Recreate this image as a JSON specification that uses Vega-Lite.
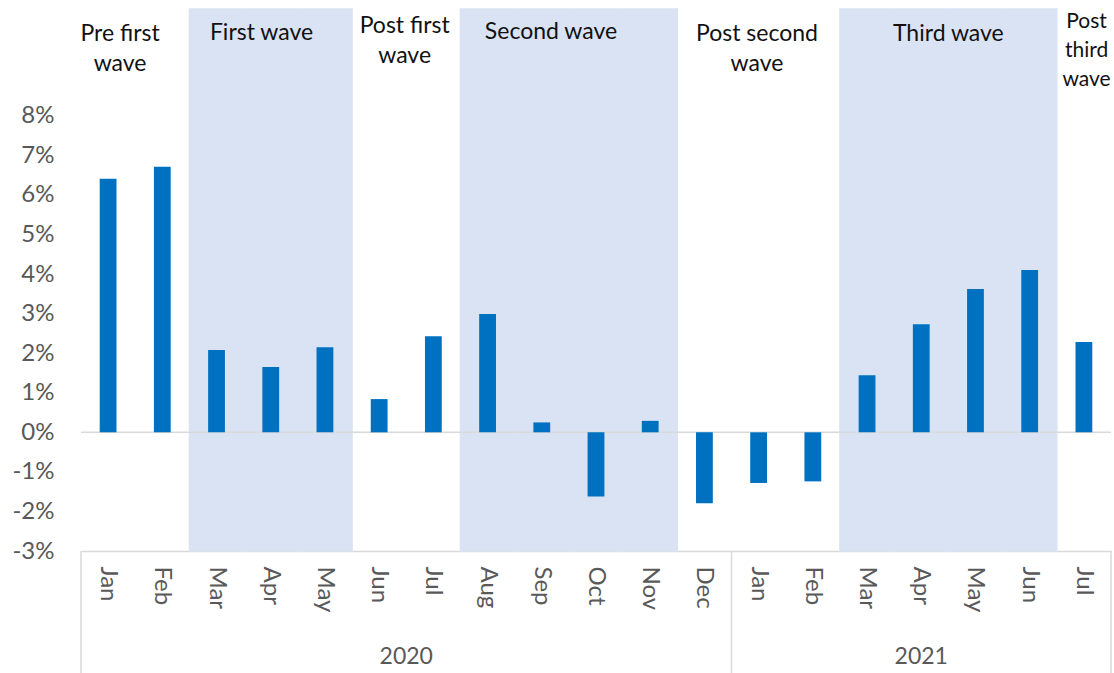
{
  "$schema": "https://vega.github.io/schema/vega-lite/v6.json",
  "width": 1030,
  "height": 542,
  "autosize": {"type": "none"},
  "padding": {"left": 81, "top": 9, "right": 3, "bottom": 122},
  "background": "white",
  "config": {"view": {"stroke": null}, "font": "Lato"},
  "datasets": {
    "monthly": [
      {"period": "2020-01", "value": 6.41, "wave": false},
      {"period": "2020-02", "value": 6.71, "wave": false},
      {"period": "2020-03", "value": 2.08, "wave": true},
      {"period": "2020-04", "value": 1.65, "wave": true},
      {"period": "2020-05", "value": 2.15, "wave": true},
      {"period": "2020-06", "value": 0.84, "wave": false},
      {"period": "2020-07", "value": 2.43, "wave": false},
      {"period": "2020-08", "value": 2.99, "wave": true},
      {"period": "2020-09", "value": 0.25, "wave": true},
      {"period": "2020-10", "value": -1.62, "wave": true},
      {"period": "2020-11", "value": 0.29, "wave": true},
      {"period": "2020-12", "value": -1.79, "wave": false},
      {"period": "2021-01", "value": -1.28, "wave": false},
      {"period": "2021-02", "value": -1.24, "wave": false},
      {"period": "2021-03", "value": 1.44, "wave": true},
      {"period": "2021-04", "value": 2.73, "wave": true},
      {"period": "2021-05", "value": 3.62, "wave": true},
      {"period": "2021-06", "value": 4.10, "wave": true},
      {"period": "2021-07", "value": 2.28, "wave": false}
    ]
  },
  "layer": [
    {
      "data": {"name": "monthly"},
      "transform": [{"filter": "datum.wave"}],
      "mark": {"type": "bar", "color": "#DAE3F3", "stroke": "#DAE3F3", "strokeWidth": 1.5},
      "encoding": {
        "x": {
          "field": "period",
          "type": "ordinal",
          "sort": "ascending",
          "scale": {"paddingInner": 0, "paddingOuter": 0},
          "axis": {
            "title": null,
            "labelExpr": "['Jan','Feb','Mar','Apr','May','Jun','Jul','Aug','Sep','Oct','Nov','Dec'][toNumber(substring(datum.value, 5, 7)) - 1]",
            "labelAngle": 90,
            "labelPadding": 15,
            "labelFontSize": 24,
            "labelColor": "#595959",
            "ticks": false,
            "domainColor": "#D9D9D9",
            "domainWidth": 1.5
          }
        },
        "y": {"datum": 10.7, "type": "quantitative"},
        "y2": {"datum": -3}
      }
    },
    {
      "data": {"values": [{}]},
      "mark": {"type": "rule", "color": "#D9D9D9", "strokeWidth": 1.5},
      "encoding": {"y": {"datum": 0, "type": "quantitative"}}
    },
    {
      "data": {"name": "monthly"},
      "mark": {"type": "bar", "color": "#0070C0", "width": {"band": 0.31}},
      "encoding": {
        "x": {"field": "period", "type": "ordinal"},
        "y": {
          "field": "value",
          "type": "quantitative",
          "scale": {"domain": [-3, 10.7], "nice": false, "zero": false},
          "axis": {
            "title": null,
            "values": [-3, -2, -1, 0, 1, 2, 3, 4, 5, 6, 7, 8],
            "labelExpr": "datum.value + '%'",
            "grid": false,
            "ticks": false,
            "domain": false,
            "labelPadding": 27,
            "labelFontSize": 24,
            "labelColor": "#595959"
          }
        }
      }
    },
    {
      "data": {"name": "monthly"},
      "transform": [{"filter": "datum.period === '2020-01' || datum.period === '2021-01'"}],
      "mark": {"type": "rule", "color": "#D9D9D9", "strokeWidth": 1.5},
      "encoding": {
        "x": {"field": "period", "type": "ordinal", "bandPosition": 0},
        "y": {"datum": -3, "type": "quantitative"},
        "y2": {"datum": -6.1}
      }
    },
    {
      "data": {"name": "monthly"},
      "transform": [{"filter": "datum.period === '2021-07'"}],
      "mark": {"type": "rule", "color": "#D9D9D9", "strokeWidth": 1.5},
      "encoding": {
        "x": {"field": "period", "type": "ordinal", "bandPosition": 1},
        "y": {"datum": -3, "type": "quantitative"},
        "y2": {"datum": -6.1}
      }
    },
    {
      "data": {"values": [{"year": "2020", "period": "2020-06"}]},
      "mark": {"type": "text", "fontSize": 23, "color": "#595959", "baseline": "middle", "align": "center"},
      "encoding": {
        "x": {"field": "period", "type": "ordinal", "bandPosition": 1},
        "y": {"datum": -5.68, "type": "quantitative"},
        "text": {"field": "year"}
      }
    },
    {
      "data": {"values": [{"year": "2021", "period": "2021-04"}]},
      "mark": {"type": "text", "fontSize": 23, "color": "#595959", "baseline": "middle", "align": "center"},
      "encoding": {
        "x": {"field": "period", "type": "ordinal", "bandPosition": 0.5},
        "y": {"datum": -5.68, "type": "quantitative"},
        "text": {"field": "year"}
      }
    },
    {
      "data": {"values": [{"phase": "Pre first\nwave", "period": "2020-01"}]},
      "mark": {"type": "text", "fontSize": 23, "color": "#111111", "baseline": "top", "align": "center", "lineBreak": "\n", "lineHeight": 30},
      "encoding": {
        "x": {"field": "period", "type": "ordinal", "bandPosition": 0.72},
        "y": {"datum": 10.35, "type": "quantitative"},
        "text": {"field": "phase"}
      }
    },
    {
      "data": {"values": [{"phase": "First wave", "period": "2020-04"}]},
      "mark": {"type": "text", "fontSize": 23, "color": "#111111", "baseline": "top", "align": "center", "lineBreak": "\n", "lineHeight": 30},
      "encoding": {
        "x": {"field": "period", "type": "ordinal", "bandPosition": 0.33},
        "y": {"datum": 10.38, "type": "quantitative"},
        "text": {"field": "phase"}
      }
    },
    {
      "data": {"values": [{"phase": "Post first\nwave", "period": "2020-06"}]},
      "mark": {"type": "text", "fontSize": 23, "color": "#111111", "baseline": "top", "align": "center", "lineBreak": "\n", "lineHeight": 30},
      "encoding": {
        "x": {"field": "period", "type": "ordinal", "bandPosition": 0.97},
        "y": {"datum": 10.55, "type": "quantitative"},
        "text": {"field": "phase"}
      }
    },
    {
      "data": {"values": [{"phase": "Second wave", "period": "2020-09"}]},
      "mark": {"type": "text", "fontSize": 23, "color": "#111111", "baseline": "top", "align": "center", "lineBreak": "\n", "lineHeight": 30},
      "encoding": {
        "x": {"field": "period", "type": "ordinal", "bandPosition": 0.67},
        "y": {"datum": 10.4, "type": "quantitative"},
        "text": {"field": "phase"}
      }
    },
    {
      "data": {"values": [{"phase": "Post second\nwave", "period": "2021-01"}]},
      "mark": {"type": "text", "fontSize": 23, "color": "#111111", "baseline": "top", "align": "center", "lineBreak": "\n", "lineHeight": 30},
      "encoding": {
        "x": {"field": "period", "type": "ordinal", "bandPosition": 0.47},
        "y": {"datum": 10.35, "type": "quantitative"},
        "text": {"field": "phase"}
      }
    },
    {
      "data": {"values": [{"phase": "Third wave", "period": "2021-04"}]},
      "mark": {"type": "text", "fontSize": 23, "color": "#111111", "baseline": "top", "align": "center", "lineBreak": "\n", "lineHeight": 30},
      "encoding": {
        "x": {"field": "period", "type": "ordinal", "bandPosition": 1},
        "y": {"datum": 10.35, "type": "quantitative"},
        "text": {"field": "phase"}
      }
    },
    {
      "data": {"values": [{"phase": "Post\nthird\nwave", "period": "2021-07"}]},
      "mark": {"type": "text", "fontSize": 21, "color": "#111111", "baseline": "top", "align": "center", "lineBreak": "\n", "lineHeight": 29},
      "encoding": {
        "x": {"field": "period", "type": "ordinal", "bandPosition": 0.55},
        "y": {"datum": 10.66, "type": "quantitative"},
        "text": {"field": "phase"}
      }
    }
  ]
}
